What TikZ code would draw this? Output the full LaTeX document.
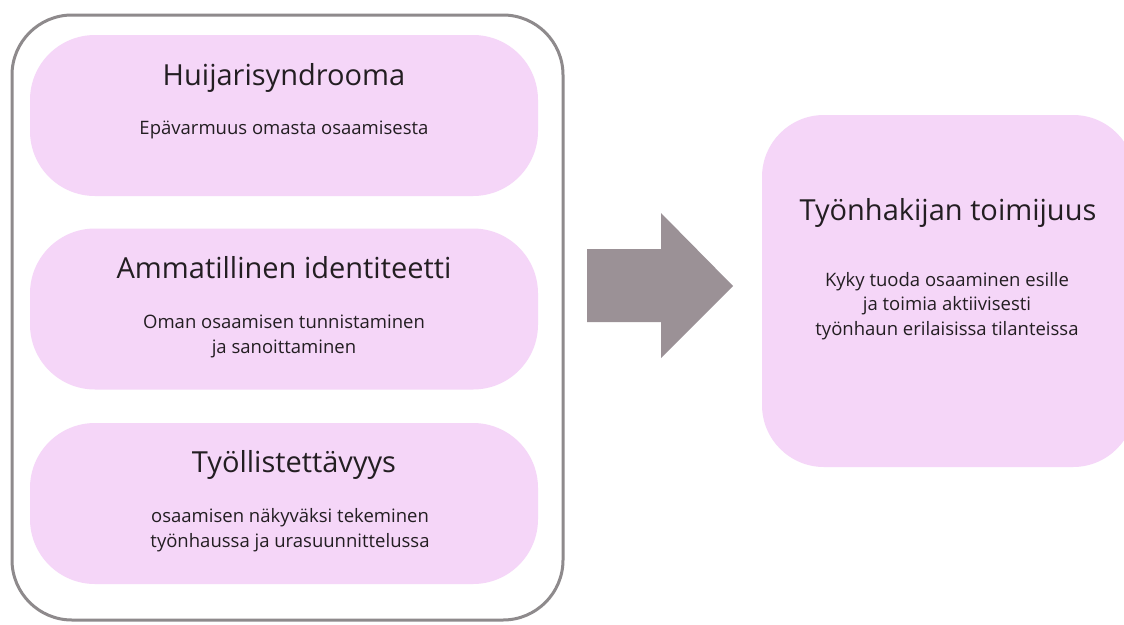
\documentclass[tikz,border=0pt]{standalone}
\usepackage{fontspec}
\setmainfont{Open Sans}
\definecolor{pinkfill}{RGB}{245,214,248}
\definecolor{framegray}{RGB}{142,138,140}
\definecolor{arrowgray}{RGB}{155,145,150}
\definecolor{txt}{RGB}{35,30,34}
\tikzset{
  pinkbox/.style={fill=pinkfill, draw=none, rounded corners=65pt, inner sep=0pt},
  framebox/.style={draw=framegray, line width=3pt, fill=white, rounded corners=60pt, inner sep=0pt},
  titletext/.style={font=\fontsize{29}{35}\selectfont, text=txt, anchor=base, inner sep=0pt},
  subtext/.style={font=\fontsize{18.5}{24.5}\selectfont, text=txt, anchor=base, align=center, inner sep=0pt},
}
\begin{document}
\begin{tikzpicture}[x=1pt,y=-1pt]
\useasboundingbox (0,0) rectangle (1124,624);
\fill[white] (0,0) rectangle (1124,624);
% outer frame
\node[framebox, minimum width=551pt, minimum height=605pt] (outer) at (287.5,317.5) {};
% left boxes
\node[pinkbox, minimum width=508pt, minimum height=161pt] (b1) at (284,115.5) {};
\node[pinkbox, minimum width=508pt, minimum height=161pt] (b2) at (284,309) {};
\node[pinkbox, minimum width=508pt, minimum height=161pt] (b3) at (284,503.5) {};
\node[titletext] (t1) at (284,85) {Huijarisyndrooma};
\node[subtext] (s1) at (284,134) {Epävarmuus omasta osaamisesta};
\node[titletext] (t2) at (284,278) {Ammatillinen identiteetti};
\node[subtext] (s2) at (284,353) {Oman osaamisen tunnistaminen\\ja sanoittaminen};
\node[titletext] (t3) at (294,472) {Työllistettävyys};
\node[subtext] (s3) at (290,547) {osaamisen näkyväksi tekeminen\\ työnhaussa ja urasuunnittelussa};
% right box
\node[pinkbox, rounded corners=62pt, minimum width=373pt, minimum height=352pt] (rb) at (948.5,291) {};
\node[titletext] (rt) at (948,220) {Työnhakijan toimijuus};
\node[subtext] (rs) at (947,335) {Kyky tuoda osaaminen esille\\ja toimia aktiivisesti\\työnhaun erilaisissa tilanteissa};
% block arrow
\fill[arrowgray] (587,249) -- (661,249) -- (661,213) -- (733,286) -- (661,358) -- (661,322) -- (587,322) -- cycle;
\end{tikzpicture}
\end{document}
